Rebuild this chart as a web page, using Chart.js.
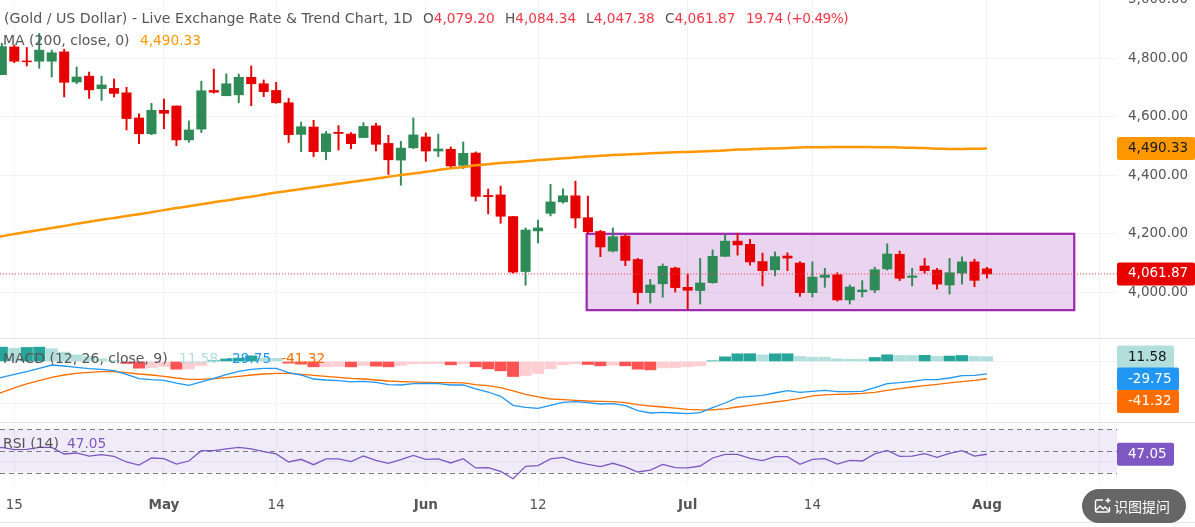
<!DOCTYPE html>
<html>
<head>
<meta charset="utf-8">
<title>XAU/USD</title>
<script src="https://cdn.jsdelivr.net/npm/chart.js@4"></script>
<style>
  html, body { margin: 0; padding: 0; background: #fff; overflow: hidden; width: 1195px; height: 527px; }
  #wrap { position: absolute; left: 0; top: -20px; width: 1195px; height: 547px; }
  .t { position: absolute; font: 14px "DejaVu Sans", sans-serif; color: #555; white-space: nowrap; line-height: 16px; }
  .n { font-size: 13.7px; }
  #ask { position: absolute; left: 1082px; top: 489px; width: 104px; height: 34px; border-radius: 17px; background: #666; color: #fff;
         font: 14px "Noto Sans CJK SC", sans-serif; line-height: 34px; }
  #ask svg { position: absolute; left: 12px; top: 8px; }
  #ask span { position: absolute; left: 32px; top: 0; }
</style>
</head>
<body>
<div id="wrap"><canvas id="chart"></canvas></div>

<div class="t" style="left:4px;top:10px;font-size:14.200px">(Gold / US Dollar) - Live Exchange Rate &amp; Trend Chart, 1D</div>
<div class="t n" style="left:423px;top:10px">O<span style="color:#f23645">4,079.20</span></div>
<div class="t n" style="left:505px;top:10px">H<span style="color:#f23645">4,084.34</span></div>
<div class="t n" style="left:586px;top:10px">L<span style="color:#f23645">4,047.38</span></div>
<div class="t n" style="left:665px;top:10px">C<span style="color:#f23645">4,061.87</span></div>
<div class="t n" style="left:746px;top:10px;color:#f23645;letter-spacing:-0.5px">19.74 (+0.49%)</div>
<div class="t" style="left:3px;top:32px">MA (200, close, 0)</div>
<div class="t n" style="left:140px;top:32px;color:#ff9800">4,490.33</div>
<div class="t" style="left:3px;top:350px">MACD (12, 26, close, 9)</div>
<div class="t n" style="left:179px;top:350px;color:#b2dfdb">11.58</div>
<div class="t n" style="left:227px;top:350px;color:#2196f3">-29.75</div>
<div class="t n" style="left:281px;top:350px;color:#ff6d00">-41.32</div>
<div class="t" style="left:3px;top:435px">RSI (14)</div>
<div class="t n" style="left:67px;top:435px;color:#7e57c2">47.05</div>

<div id="ask">
  <svg width="18" height="18" viewBox="0 0 18 18" fill="none" stroke="#fff" stroke-width="1.4">
    <path d="M9 3H3a1.5 1.5 0 0 0-1.5 1.5v9A1.5 1.5 0 0 0 3 15h11a1.5 1.5 0 0 0 1.5-1.5V10"/>
    <path d="M2 13l4-4 3 3 2-2 4 4"/>
    <path d="M14 1v5M11.5 3.500h5"/>
  </svg>
  <span>识图提问</span>
</div>

<script>
// first entry is the day just off the left edge, only its lines show
const opens = [4700,
  4743,4838,4790,4789,4789,4821,4718,4738,4695,4696,
  4681,4595,4541,4621,4636,4520,4557,4689,4671,4674,
  4734,4712,4689,4647,4539,4564,4480,4546,4540,4528,
  4568,4508,4451,4493,4530,4482,4488,4433,4475,4330,
  4332,4258,4070,4209,4269,4308,4329,4254,4207,4140,
  4191,4111,3998,4028,4082,4016,4005,4032,4122,4174,
  4163,4104,4076,4123,4099,3998,4050,4059,3973,4001,
  4007,4079,4129,4050,4089,4075,4024,4065,4103,4079.20]
const closes = [4745,
  4839,4789,4787,4827,4818,4717,4735,4691,4708,4679,
  4593,4541,4621,4611,4520,4554,4688,4683,4712,4734,
  4712,4685,4647,4538,4565,4480,4541,4542,4507,4566,
  4505,4452,4492,4537,4482,4489,4431,4474,4327,4326,
  4259,4068,4212,4219,4308,4329,4253,4206,4154,4189,
  4108,3998,4024,4088,4015,4006,4031,4122,4174,4161,
  4103,4073,4121,4116,3998,4051,4058,3973,4017,4007,
  4076,4130,4047,4055,4073,4027,4066,4103,4040,4061.87]
const highs = [4760,
  4850,4844,4836,4884,4827,4830,4769,4752,4738,4728,
  4700,4609,4645,4660,4636,4585,4721,4762,4746,4745,
  4773,4725,4717,4662,4581,4587,4549,4569,4545,4579,
  4577,4536,4515,4595,4544,4540,4496,4513,4479,4352,
  4362,4258,4219,4246,4368,4353,4379,4328,4211,4219,
  4196,4115,4043,4096,4085,4062,4115,4144,4196,4201,
  4180,4133,4137,4134,4104,4103,4081,4066,4024,4039,
  4085,4165,4140,4081,4115,4081,4115,4120,4112,4084.34]
const lows = [4690,
  4743,4784,4773,4765,4735,4667,4712,4662,4655,4667,
  4554,4507,4538,4558,4500,4512,4545,4680,4671,4647,
  4637,4668,4645,4511,4480,4463,4452,4485,4490,4528,
  4482,4402,4365,4490,4447,4463,4423,4422,4311,4267,
  4235,4064,4023,4168,4260,4304,4219,4200,4121,4137,
  4090,3959,3962,3982,4000,3941,3959,4030,4121,4126,
  4092,4021,4055,4073,3985,3983,4016,3969,3959,3983,
  3998,4075,4039,4021,4064,4010,3993,4027,4018,4047.38]
const ma200 = [4184,
  4191,4198,4205,4212,4219,4226,4233,4240,4247,4253,
  4260,4266,4273,4280,4287,4293,4300,4307,4313,4320,
  4326,4333,4340,4346,4352,4358,4364,4370,4376,4382,
  4388,4394,4400,4405,4411,4417,4423,4427,4433,4437,
  4441,4444,4447,4451,4454,4457,4460,4463,4466,4468,
  4470,4472,4474,4476,4478,4479,4480,4482,4484,4487,
  4488,4490,4491,4492,4494,4495,4495,4496,4496,4496,
  4495,4495,4494,4493,4492,4490,4489,4489,4490,4490.33]

const macdLine = [-45,
  -37.9,-30.7,-24.3,-16.3,-8.4,-10.8,-14,-17.1,-18.7,-21.9,
  -30.7,-41,-43.5,-45,-52,-57,-49,-40.3,-31.5,-23.5,
  -18.7,-16.3,-16.3,-26.7,-32.3,-41.9,-44.3,-45.9,-49,-47.4,
  -49.8,-55.4,-56.2,-53,-52.2,-53,-56.2,-56.2,-65.8,-73,
  -83.3,-104.9,-109.6,-112,-104.9,-97.7,-96.1,-98.5,-101.7,-100.9,
  -105.7,-117.6,-123.2,-121.6,-123.2,-124.8,-122.4,-110.4,-99.3,-86.5,
  -83.3,-80.9,-75.4,-69.8,-73.8,-71.4,-69,-72.2,-72.2,-71.4,
  -62.6,-53,-50.6,-47.4,-43.5,-43.5,-39.5,-33.9,-33.1,-29.75]
const signalLine = [-84,
  -73.8,-63.4,-53.8,-45.9,-37.9,-32.3,-28.3,-25.9,-24.3,-24.3,
  -26.7,-29.9,-32.3,-35.5,-39.5,-42.7,-42.7,-41,-38.7,-35.5,
  -32.3,-29.9,-28.3,-28.3,-30.7,-33.1,-35.5,-37.9,-40.3,-41.9,
  -44.3,-46.7,-48,-49,-49.8,-50.6,-50.6,-51.4,-55.4,-57.8,
  -62.6,-70.6,-78.5,-84.9,-89.7,-91.3,-92.9,-94.5,-95.3,-96.1,
  -98.5,-103.3,-106.5,-108.9,-111.4,-114.4,-116,-116,-113.6,-108.9,
  -104.9,-100.9,-96.9,-92.9,-88.1,-82.5,-80.1,-78.5,-77.8,-76.2,
  -73.8,-69,-65,-61,-57.8,-54.6,-51.4,-48.2,-45.1,-41.32]
const macdHist = [34,
  34.4,32,33.6,34.4,30.4,22.4,16,12,6.4,2.4,
  -4.8,-16,-14.4,-12,-18.4,-18,-9.6,2,6,8,
  13.6,8,7.6,-4,-6.4,-12.8,-12.4,-11.6,-12.8,-9.6,
  -11.2,-12.8,-9.6,-5.6,-5.4,-5,-8,-5.6,-12.8,-17.6,
  -22.4,-36,-33.6,-28.8,-17.6,-8,-5.6,-7.2,-10.4,-8.8,
  -10.4,-18.4,-20,-15.2,-15,-12.8,-10.4,1.6,11.2,18.4,
  18.6,16,18.4,18.5,12,10.4,10.2,6.4,5.6,5.4,
  9.6,16,14.4,14.2,14.8,12,13,14.4,12,11.58]
const rsi14 = [52,
  53.4,51.3,51.6,53.4,53.4,47.3,48.2,45.4,46.7,45.1,
  39.9,37.1,43.6,43,38,40.8,50.3,50.3,51.9,53.4,
  51.9,49.4,47.3,39.9,42.4,37.4,42.7,42.7,40.2,45.4,
  41.4,38.7,42,46,42.4,42.7,39,43,34.4,34.7,
  31.3,24.5,35.9,36.5,42.7,44.2,40.2,37.7,35.6,38.7,
  35.3,30.7,32.5,37.7,34.7,34.4,36.2,43.6,47,47,
  43.3,41.1,44.8,44.8,37.7,42.4,43,38,41.4,40.8,
  47.3,50.6,45.1,45.4,47.6,44.2,47.9,50.3,45.4,47.05]

const dayTicks = [1,13,22,34,43,55,65,79,88]
const dayLabels = ['15','May','14','Jun','12','Jul','14','Aug','']
const monthLabels = ['May','Jun','Jul','Aug']
const priceTicks = [4000,4200,4400,4600,4800,5000]
const macdTicks = [0,-100]
const rsiTicks = [40]
const rsiBands = [70,50,30]
const boxDays = [46.9,86]
const boxPrices = [3938,4199]
const lastPrice = 4061.87
const lastMa = 4490.33
const lastRsi = 47.05

const UP = '#2e8b57', DOWN = '#e60000'
const AXIS_FONT = '"DejaVu Sans", sans-serif'
const GRID = '#f1f3f6'
const TOP = 20 // canvas sits 20px above the page so the 5,000 label gets cut

const days = opens.map((_, i) => i - 1)
const candleColor = opens.map((o, i) => closes[i] >= o ? UP : DOWN)
const histColor = macdHist.map((v, i) => {
  const prev = i ? macdHist[i - 1] : 0
  if (v >= 0) return v > prev ? '#26a69a' : '#b2dfdb'
  return v < prev ? '#ff5252' : '#ffcdd2'
})
const pts = list => list.map((v, i) => ({ x: days[i], y: v }))

function setTicks(list) {
  return scale => { scale.ticks = list.map(v => ({ value: v })) }
}
// fixed axis sizes, and no extra room for half labels at the ends
function fitTo(key, size) {
  return scale => {
    scale[key] = size
    scale.paddingTop = scale.paddingBottom = scale.paddingLeft = scale.paddingRight = 0
  }
}

function badge(ctx, text, y, w, bg, fg) {
  ctx.fillStyle = bg
  ctx.beginPath()
  ctx.roundRect(1117, y - 11.5, w, 23, 2)
  ctx.fill()
  ctx.fillStyle = fg
  ctx.font = '13.5px ' + AXIS_FONT
  ctx.textAlign = 'left'
  ctx.textBaseline = 'middle'
  ctx.fillText(text, 1128, y)
}

// box, rsi band and last price line go under the candles
const underlay = {
  id: 'underlay',
  beforeDatasetsDraw(chart) {
    const { ctx, chartArea: a, scales } = chart
    const x = scales.x, y = scales.y, r = scales.rsi
    ctx.save()

    ctx.fillStyle = 'rgba(126,87,194,0.12)'
    const rt = r.getPixelForValue(rsiBands[0]), rb = r.getPixelForValue(rsiBands[2])
    ctx.fillRect(a.left, rt, a.right - a.left, rb - rt)
    ctx.strokeStyle = '#787b86'
    ctx.lineWidth = 1
    ctx.setLineDash([5, 4])
    rsiBands.forEach(v => {
      const py = Math.round(r.getPixelForValue(v)) + 0.5
      ctx.beginPath(); ctx.moveTo(a.left, py); ctx.lineTo(a.right, py); ctx.stroke()
    })
    ctx.setLineDash([])

    const bx0 = x.getPixelForValue(boxDays[0]), bx1 = x.getPixelForValue(boxDays[1])
    const by0 = y.getPixelForValue(boxPrices[1]), by1 = y.getPixelForValue(boxPrices[0])
    ctx.fillStyle = 'rgba(156,39,176,0.2)'
    ctx.fillRect(bx0, by0, bx1 - bx0, by1 - by0)
    ctx.strokeStyle = '#9c27b0'
    ctx.lineWidth = 2.2
    ctx.strokeRect(bx0, by0, bx1 - bx0, by1 - by0)
    ctx.restore()
  },
  afterDatasetsDraw(chart) {
    const { ctx, chartArea: a, scales } = chart
    const py = scales.y.getPixelForValue(lastPrice)
    ctx.save()
    ctx.strokeStyle = '#f23645'
    ctx.lineWidth = 1
    ctx.setLineDash([1, 2])
    ctx.beginPath(); ctx.moveTo(a.left, py); ctx.lineTo(a.right, py); ctx.stroke()
    ctx.restore()
  },
  afterDraw(chart) {
    const { ctx, width, scales } = chart
    ctx.save()
    ctx.strokeStyle = '#e0e3eb'
    ctx.lineWidth = 1
    ;[338, 422, 522].forEach(v => {
      ctx.beginPath(); ctx.moveTo(0, v + TOP + 0.5); ctx.lineTo(width, v + TOP + 0.5); ctx.stroke()
    })
    badge(ctx, '4,490.33', scales.y.getPixelForValue(lastMa), 78, '#ff9800', '#131722')
    badge(ctx, '4,061.87', scales.y.getPixelForValue(lastPrice), 78, DOWN, '#fff')
    // the macd badges get pushed apart, they do not sit on their values
    badge(ctx, '11.58', 357 + TOP, 57, '#b2dfdb', '#131722')
    badge(ctx, '-29.75', 379 + TOP, 62, '#2196f3', '#fff')
    badge(ctx, '-41.32', 401.5 + TOP, 62, '#ff6d00', '#fff')
    badge(ctx, '47.05', scales.rsi.getPixelForValue(lastRsi), 57, '#7e57c2', '#fff')
    ctx.restore()
  }
}

new Chart(document.getElementById('chart'), {
  data: {
    datasets: [
      { type: 'line', label: 'MA', yAxisID: 'y', order: 0, data: pts(ma200),
        borderColor: '#ff9800', borderWidth: 2.5, pointRadius: 0, tension: 0.2 },
      { type: 'bar', label: 'body', yAxisID: 'y', order: 1, data: pts(opens.map((o, i) => [o, closes[i]])),
        backgroundColor: candleColor, barThickness: 9.4, grouped: false },
      { type: 'bar', label: 'wick', yAxisID: 'y', order: 2, data: pts(lows.map((l, i) => [l, highs[i]])),
        backgroundColor: candleColor, barThickness: 1.3, grouped: false },
      { type: 'bar', label: 'hist', yAxisID: 'macd', order: 5, data: pts(macdHist),
        backgroundColor: histColor, barThickness: 11.4, grouped: false },
      { type: 'line', label: 'macd', yAxisID: 'macd', order: 3, data: pts(macdLine),
        borderColor: '#2196f3', borderWidth: 1.3, pointRadius: 0 },
      { type: 'line', label: 'signal', yAxisID: 'macd', order: 4, data: pts(signalLine),
        borderColor: '#ff6d00', borderWidth: 1.3, pointRadius: 0 },
      { type: 'line', label: 'rsi', yAxisID: 'rsi', order: 3, data: pts(rsi14),
        borderColor: '#7e57c2', borderWidth: 1.3, pointRadius: 0 }
    ]
  },
  options: {
    responsive: true,
    maintainAspectRatio: false,
    animation: false,
    layout: { padding: 0 },
    plugins: { legend: { display: false }, tooltip: { enabled: false } },
    scales: {
      x: {
        type: 'linear', offset: false, min: -0.1467, max: 89.428,
        afterBuildTicks: setTicks(dayTicks),
        afterFit: fitTo('height', 42),
        border: { display: false },
        grid: { color: GRID, drawTicks: false, offset: false },
        ticks: {
          autoSkip: false, maxRotation: 0, padding: 12, color: '#555',
          font: c => ({ family: AXIS_FONT, size: 13.5, weight: c.tick && monthLabels.includes(c.tick.label) ? 'bold' : 'normal' }),
          callback: v => dayLabels[dayTicks.indexOf(v)]
        }
      },
      y: {
        position: 'right', min: 3340.2, max: 5066.7,
        afterBuildTicks: setTicks(priceTicks),
        afterFit: fitTo('width', 78),
        border: { display: false },
        grid: { color: GRID, drawTicks: false },
        ticks: { padding: 11, color: '#555', font: { family: AXIS_FONT, size: 13.5 },
          callback: v => v.toLocaleString('en-US', { minimumFractionDigits: 2 }) }
      },
      macd: {
        position: 'right', weight: -1, min: -295.5, max: 912.7,
        afterBuildTicks: setTicks(macdTicks),
        afterFit: fitTo('width', 0),
        border: { display: false },
        grid: { color: GRID, drawTicks: false },
        ticks: { padding: 7, color: '#555', font: { family: AXIS_FONT, size: 13.5 }, callback: v => v.toFixed(2) }
      },
      rsi: {
        position: 'right', weight: -2, min: 18.7, max: 484.1,
        afterBuildTicks: setTicks(rsiTicks),
        afterFit: fitTo('width', 0),
        border: { display: false },
        grid: { color: GRID, drawTicks: false },
        ticks: { padding: 14, color: '#555', font: { family: AXIS_FONT, size: 13.5 }, callback: v => v.toFixed(2) }
      }
    }
  },
  plugins: [underlay]
})
</script>
</body>
</html>
